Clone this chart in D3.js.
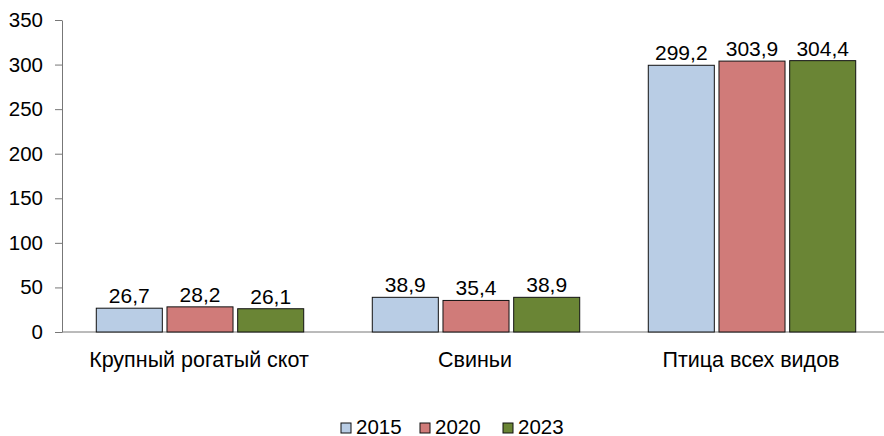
<!DOCTYPE html>
<html>
<head>
<meta charset="utf-8">
<script src="https://cdn.jsdelivr.net/npm/d3@7"></script>
<style>
  body { margin: 0; background: #fff; }
  text { font-family: "Liberation Sans", Arial, sans-serif; fill: #000; }
</style>
</head>
<body>
<svg width="884" height="436"></svg>
<script>
var categories = ["Крупный рогатый скот", "Свиньи", "Птица всех видов"];
var years = ["2015", "2020", "2023"];
var values2015 = [26.7, 38.9, 299.2];
var values2020 = [28.2, 35.4, 303.9];
var values2023 = [26.1, 38.9, 304.4];
var yTicks = [0, 50, 100, 150, 200, 250, 300, 350];
var colors = ["#b9cde5", "#d07b79", "#6a8535"];

var series = [values2015, values2020, values2023];

var svg = d3.select("svg"),
    margin = {top: 20, left: 62, bottom: 332},
    g = svg.append("g");

var x0 = d3.scaleBand()
    .domain(categories)
    .range([margin.left, 890])
    .paddingInner(0)
    .paddingOuter(0);

var x1 = d3.scaleBand()
    .domain(years)
    .range([0, x0.bandwidth()])
    .paddingInner(0.066)
    .paddingOuter(0.485);

var y = d3.scaleLinear().domain([0, 350]).range([margin.bottom, margin.top]);

// y axis
var yAxis = g.append("g")
    .attr("transform", "translate(" + margin.left + ",0)")
    .call(d3.axisLeft(y).tickValues(yTicks).tickSize(7).tickSizeOuter(0).tickPadding(12));
yAxis.selectAll("text").style("font-size", "20.5px").style("font-family", "Liberation Sans, Arial, sans-serif");
yAxis.selectAll("line, path").attr("stroke", "#777");

// x axis line only
g.append("line")
    .attr("x1", margin.left).attr("x2", 884)
    .attr("y1", y(0)).attr("y2", y(0))
    .attr("stroke", "#777");

var rows = categories.map(function(c, i) {
    return {cat: c, vals: years.map(function(yr, j) { return {year: yr, v: series[j][i], k: j}; })};
});

var grp = g.selectAll(".grp")
    .data(rows)
    .enter().append("g")
    .attr("class", "grp")
    .attr("transform", function(d) { return "translate(" + x0(d.cat) + ",0)"; });

grp.selectAll("rect")
    .data(function(d) { return d.vals; })
    .enter().append("rect")
    .attr("x", function(d) { return x1(d.year); })
    .attr("y", function(d) { return y(d.v); })
    .attr("width", x1.bandwidth())
    .attr("height", function(d) { return y(0) - y(d.v); })
    .attr("fill", function(d) { return colors[d.k]; })
    .attr("stroke", "#111")
    .attr("stroke-width", 1);

grp.selectAll(".val")
    .data(function(d) { return d.vals; })
    .enter().append("text")
    .attr("class", "val")
    .attr("x", function(d) { return x1(d.year) + x1.bandwidth() / 2; })
    .attr("y", function(d) { return y(d.v) - 5; })
    .attr("text-anchor", "middle")
    .style("font-size", "21px")
    .text(function(d) { return String(d.v).replace(".", ","); });

grp.append("text")
    .attr("x", x0.bandwidth() / 2 - 1)
    .attr("y", 367)
    .attr("text-anchor", "middle")
    .style("font-size", "21.5px")
    .text(function(d) { return d.cat; });

// legend
var legendX = [341, 420, 503];
var lg = g.selectAll(".lg")
    .data(years)
    .enter().append("g")
    .attr("class", "lg")
    .attr("transform", function(d, i) { return "translate(" + legendX[i] + ",423)"; });

lg.append("rect")
    .attr("width", 10).attr("height", 10)
    .attr("fill", function(d, i) { return colors[i]; })
    .attr("stroke", "#111");

lg.append("text")
    .attr("x", 15)
    .attr("y", 10.5)
    .style("font-size", "20.5px")
    .text(function(d) { return d; });
</script>
</body>
</html>
